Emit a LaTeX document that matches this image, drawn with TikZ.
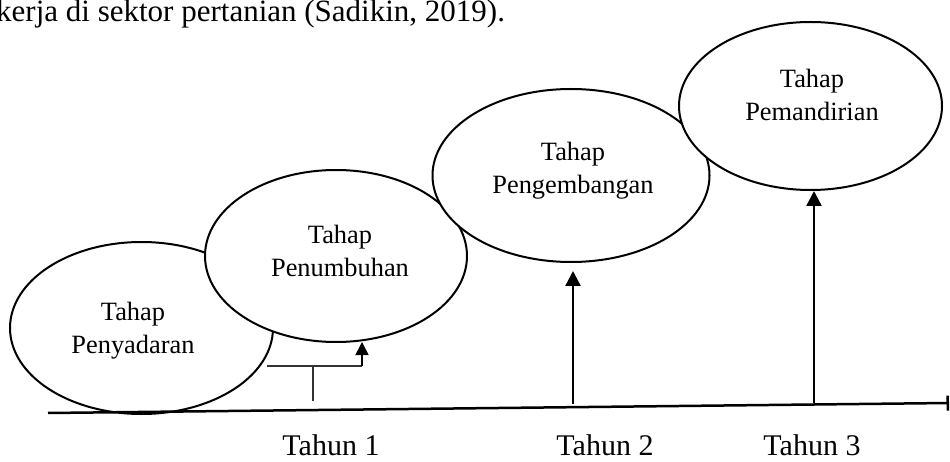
\documentclass[tikz,border=0pt]{standalone}
\usepackage{fontspec}
\setmainfont{Liberation Serif}
\usetikzlibrary{arrows.meta,shapes.geometric}
\begin{document}
\begin{tikzpicture}[x=1pt,y=-1pt,
  stage/.style={draw=black,line width=2pt,fill=white,ellipse,inner sep=0pt},
  stagetext/.style={align=center,font=\fontsize{26.4}{33}\selectfont,inner sep=0pt},
  yeartext/.style={font=\fontsize{30}{35}\selectfont,inner sep=0pt,anchor=base},
  bigarrow/.style={line width=2.4pt,-{Triangle[length=15pt,width=15pt]}},
  thinline/.style={line width=1.2pt,draw=black!80}
]
\useasboundingbox (0,0) rectangle (950,462);
\clip (0,0) rectangle (950,462);
% cropped page text at the top
\node[anchor=base west,inner sep=0pt,font=\fontsize{31}{36}\selectfont] (toptext) at (-4,22) {kerja di sektor pertanian (Sadikin, 2019).};
% ellipses
\node[stage,minimum width=263pt,minimum height=172pt] (e1) at (141.5,328) {};
\node[stage,minimum width=262pt,minimum height=172pt] (e2) at (336,256) {};
\node[stage,minimum width=277pt,minimum height=173pt] (e3) at (571,175.5) {};
\node[stage,minimum width=263pt,minimum height=168pt] (e4) at (810.5,106) {};
\node[stagetext] (t1) at (133,331) {Tahap\\Penyadaran};
\node[stagetext] (t2) at (340,251) {Tahap\\Penumbuhan};
\node[stagetext] (t3) at (573,171) {Tahap\\Pengembangan};
\node[stagetext] (t4) at (812,95) {Tahap\\Pemandirian};
% axis
\coordinate (axL) at (48,413);
\coordinate (axR) at (949,403);
\draw[line width=2.5pt,-{Bar[width=15pt,line width=2.5pt]}] (axL) -- (axR);
% bracket for year 1
\coordinate (bL) at (267,366);
\coordinate (bR) at (362,366);
\coordinate (bM) at (313,366);
\coordinate (bD) at (313,401);
\coordinate (bT) at (362,342);
\draw[thinline] (bL) -- (bR);
\draw[thinline] (bM) -- (bD);
\draw[line width=1.6pt,-{Triangle[length=13pt,width=13pt]}] (bR) -- (bT);
% arrows year 2 and 3
\coordinate (a2b) at (573,404);
\coordinate (a2t) at (573,271);
\coordinate (a3b) at (814,403);
\coordinate (a3t) at (814,191);
\draw[bigarrow] (a2b) -- (a2t);
\draw[bigarrow] (a3b) -- (a3t);
% year labels
\node[yeartext] (y1) at (331,455) {Tahun 1};
\node[yeartext] (y2) at (605,455) {Tahun 2};
\node[yeartext] (y3) at (812,455) {Tahun 3};
\end{tikzpicture}
\end{document}
